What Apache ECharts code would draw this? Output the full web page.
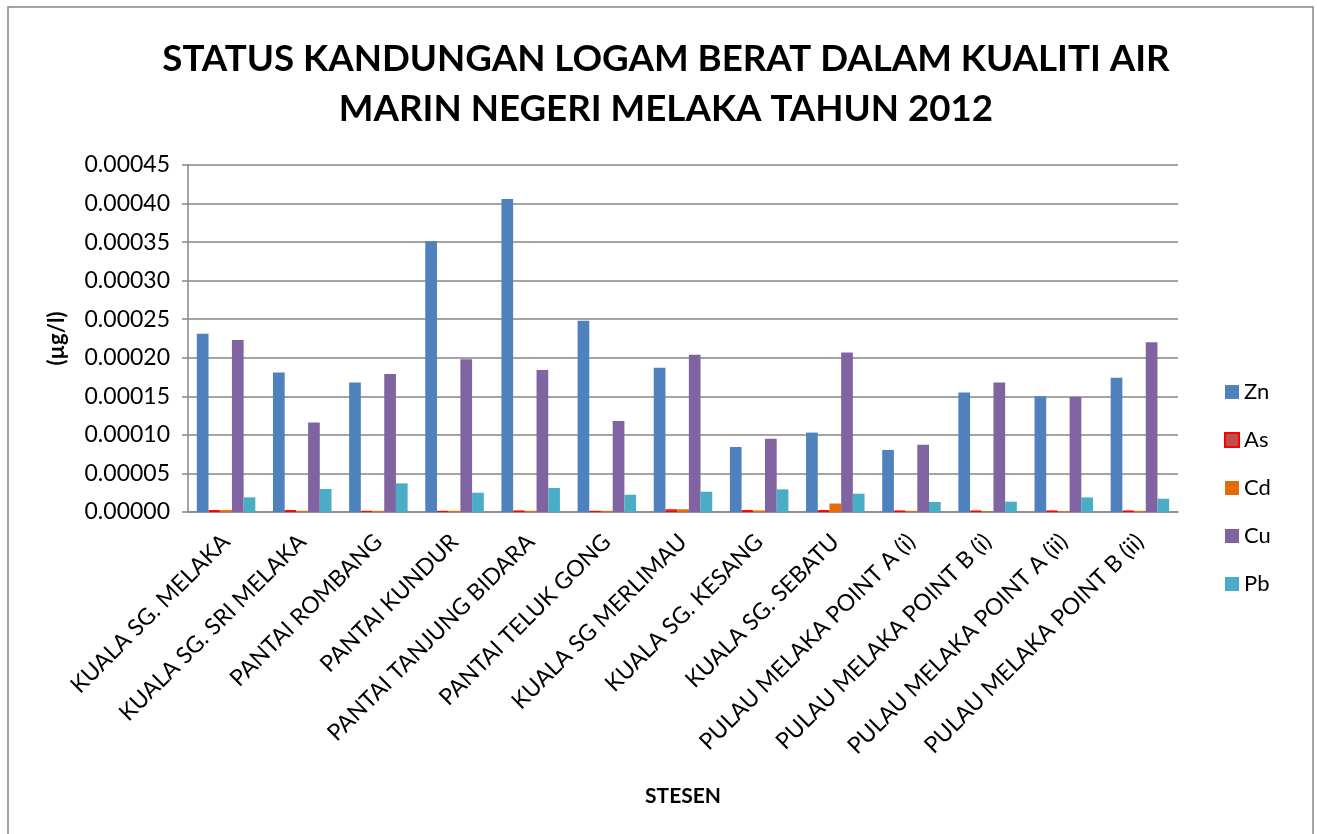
<!DOCTYPE html>
<html>
<head>
<meta charset="utf-8">
<script src="https://cdn.jsdelivr.net/npm/echarts@6/dist/echarts.min.js"></script>
<style>
  html, body { margin: 0; padding: 0; background: #fff; }
  #myChart { width: 1317px; height: 834px; }
</style>
</head>
<body>
<div id="myChart"></div>
<script>
var stations = ["KUALA SG. MELAKA", "KUALA SG. SRI MELAKA", "PANTAI ROMBANG", "PANTAI KUNDUR",
    "PANTAI TANJUNG BIDARA", "PANTAI TELUK GONG", "KUALA SG MERLIMAU", "KUALA SG. KESANG",
    "KUALA SG. SEBATU", "PULAU MELAKA POINT A (i)", "PULAU MELAKA POINT B (i)",
    "PULAU MELAKA POINT A (ii)", "PULAU MELAKA POINT B (ii)"];

var zn = [0.000231, 0.000181, 0.000168, 0.000351, 0.000406, 0.000248, 0.000187, 0.0000843, 0.000103, 0.0000804, 0.000155, 0.000150, 0.000174];
var as = [0.0000025, 0.0000025, 0.0000015, 0.0000015, 0.000002, 0.0000015, 0.0000035, 0.0000025, 0.0000025, 0.000002, 0.000002, 0.000002, 0.000002];
var cd = [0.0000025, 0.0000015, 0.0000015, 0.0000015, 0.0000015, 0.0000015, 0.0000035, 0.000002, 0.000011, 0.0000015, 0.000001, 0.000001, 0.0000015];
var cu = [0.000223, 0.000116, 0.000179, 0.000198, 0.000184, 0.000118, 0.000204, 0.000095, 0.000207, 0.0000873, 0.000168, 0.000149, 0.000220];
var pb = [0.000019, 0.0000298, 0.0000371, 0.000025, 0.0000311, 0.0000224, 0.0000263, 0.0000293, 0.0000237, 0.000013, 0.0000134, 0.0000189, 0.0000172];

var font = "Lato, 'Open Sans', sans-serif";

function barSeries(name, data, color, border) {
    return {
        name: name,
        type: "bar",
        data: data,
        barWidth: 11.7,
        barGap: "0%",
        itemStyle: {
            color: color,
            borderColor: border || color,
            borderWidth: border ? 1 : 0
        }
    };
}

var chart = echarts.init(document.getElementById("myChart"));
chart.setOption({
    animation: false,
    textStyle: { fontFamily: font },
    title: {
        text: "STATUS KANDUNGAN LOGAM BERAT DALAM KUALITI AIR\nMARIN NEGERI MELAKA TAHUN 2012",
        left: 661,
        top: 29,
        textAlign: "center",
        textStyle: { fontFamily: font, fontWeight: "bold", fontSize: 36.7, lineHeight: 50, color: "#000" }
    },
    graphic: [{
        type: "rect",
        shape: { x: 8, y: 7, width: 1305, height: 840 },
        style: { fill: "none", stroke: "#868686", lineWidth: 1.5 },
        silent: true
    }],
    legend: {
        orient: "vertical",
        left: 1219,
        top: 376,
        itemWidth: 14,
        itemHeight: 14,
        itemGap: 26,
        icon: "rect",
        textStyle: { fontFamily: font, fontSize: 22, color: "#000" },
        data: ["Zn", "As", "Cd", "Cu", "Pb"]
    },
    grid: { left: 188, right: 139, top: 165, bottom: 322 },
    xAxis: {
        type: "category",
        data: stations,
        name: "STESEN",
        nameLocation: "middle",
        nameGap: 274,
        nameTextStyle: { fontFamily: font, fontWeight: "bold", fontSize: 21, color: "#000" },
        axisLine: { lineStyle: { color: "#868686", width: 1.5 } },
        axisTick: { show: false },
        axisLabel: { rotate: 45, interval: 0, fontSize: 23, color: "#000", margin: 26 }
    },
    yAxis: {
        type: "value",
        min: 0,
        max: 0.00045,
        interval: 0.00005,
        name: "(µg/l)",
        nameLocation: "middle",
        nameGap: 120,
        nameTextStyle: { fontFamily: font, fontWeight: "bold", fontSize: 22, color: "#000" },
        axisLine: { show: true, lineStyle: { color: "#868686", width: 1.5 } },
        axisTick: { show: true, length: 6, lineStyle: { color: "#868686", width: 1.5 } },
        splitLine: { lineStyle: { color: "#868686", width: 1.5 } },
        axisLabel: {
            fontSize: 23, color: "#000", margin: 18,
            formatter: function (v) { return v.toFixed(5); }
        }
    },
    series: [
        barSeries("Zn", zn, "#4F81BD"),
        barSeries("As", as, "#C0504D", "#FF0000"),
        barSeries("Cd", cd, "#E46C0A"),
        barSeries("Cu", cu, "#8064A2"),
        barSeries("Pb", pb, "#4BACC6")
    ]
});
</script>
</body>
</html>
